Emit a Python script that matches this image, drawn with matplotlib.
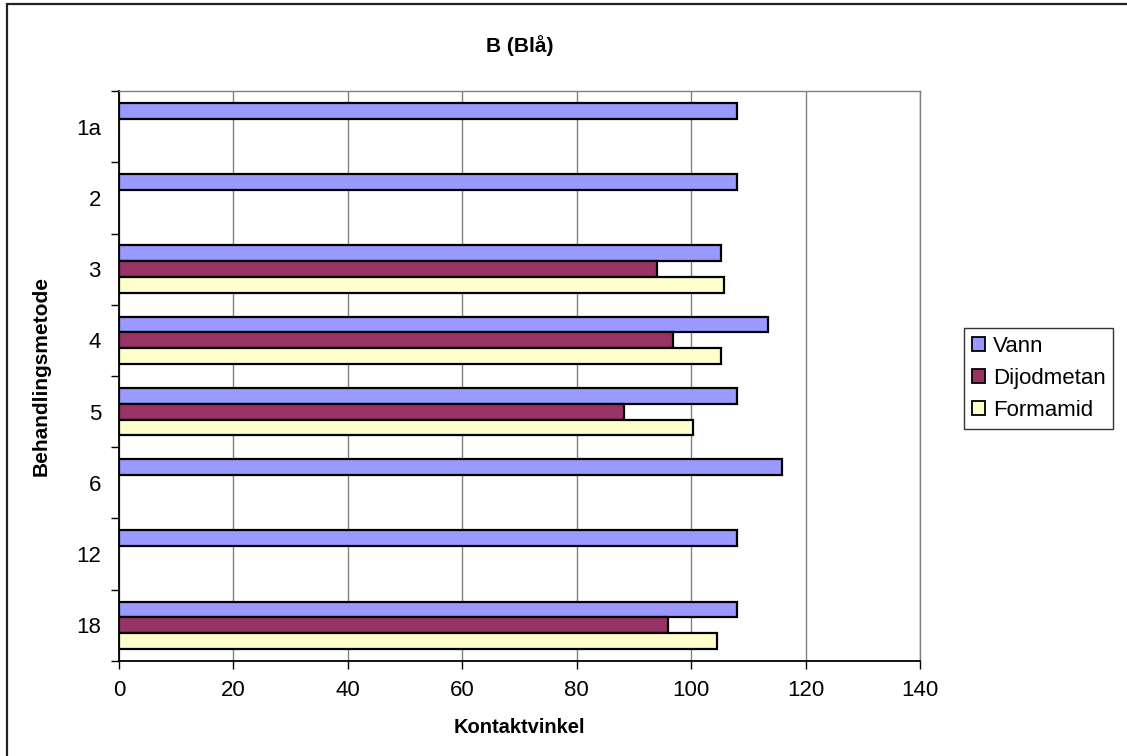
import numpy as np
import matplotlib

matplotlib.use("Agg")
import matplotlib.pyplot as plt
from matplotlib.patches import Rectangle

# contact angle per treatment method (nan = not measured)
methods = ["1a", "2", "3", "4", "5", "6", "12", "18"]
vann = [108.0, 108.0, 105.2, 113.5, 108.0, 115.9, 108.0, 108.0]
dijodmetan = [np.nan, np.nan, 94.1, 96.9, 88.3, np.nan, np.nan, 96.0]
formamid = [np.nan, np.nan, 105.8, 105.2, 100.3, np.nan, np.nan, 104.6]

series = [("Vann", vann, "#9999FF"),
          ("Dijodmetan", dijodmetan, "#993366"),
          ("Formamid", formamid, "#FFFFCC")]

plt.rcParams.update({"font.family": ["Liberation Sans", "DejaVu Sans"]})

fig = plt.figure(figsize=(11.27, 7.56), dpi=100)
ax = fig.add_axes([0.1056, 0.1257, 0.8163 - 0.1056, 0.8796 - 0.1257])

h = 0.222
pos = np.arange(len(methods))
for k, (name, vals, col) in enumerate(series):
    vals = np.asarray(vals, dtype=float)
    ok = ~np.isnan(vals)
    ax.barh(pos[ok] + (k - 1) * h, vals[ok], height=h, color=col,
            edgecolor="black", linewidth=1.6, label=name, zorder=3)

ax.set_xlim(0, 140)
ax.set_ylim(len(methods) - 0.5, -0.5)
ax.set_xticks(np.arange(0, 141, 20))
ax.xaxis.grid(True, color="#808080", lw=1.0, zorder=0)

ax.set_yticks(pos)
ax.set_yticklabels(methods)
ax.set_yticks(np.arange(-0.5, len(methods)), minor=True)
ax.tick_params(axis="y", which="major", length=0, pad=13, labelsize=16)
ax.tick_params(axis="y", which="minor", length=6, width=1.0, direction="out")
ax.tick_params(axis="x", length=6, width=1.0, pad=8, labelsize=16)

for s in ("top", "right"):
    ax.spines[s].set_color("#808080")
    ax.spines[s].set_linewidth(1.0)
for s in ("left", "bottom"):
    ax.spines[s].set_color("black")
    ax.spines[s].set_linewidth(1.3)

ax.set_xlabel("Kontaktvinkel", fontsize=14.5, fontweight="bold", labelpad=12)
ax.set_ylabel("Behandlingsmetode", fontsize=15, fontweight="bold", labelpad=18)
fig.text(0.461, 0.940, "B (Blå)", ha="center", va="center",
         fontsize=15, fontweight="bold")

leg = fig.legend(loc="upper left", bbox_to_anchor=(964 / 1127, 1 - 328 / 756),
                 fontsize=16, frameon=True, fancybox=False, borderpad=0.35,
                 handlelength=0.6, handleheight=0.6, handletextpad=0.35,
                 labelspacing=0.5, borderaxespad=0)
leg.get_frame().set_edgecolor("black")
leg.get_frame().set_linewidth(1.0)
for p in leg.get_patches():
    p.set_linewidth(1.3)

# chart-area border
fig.patches.append(Rectangle((7 / 1127, -0.05), 1.1, 1.05 - 4 / 756,
                             transform=fig.transFigure, fill=False,
                             edgecolor="#222222", lw=1.6))

fig.savefig("out.png", dpi=100)
